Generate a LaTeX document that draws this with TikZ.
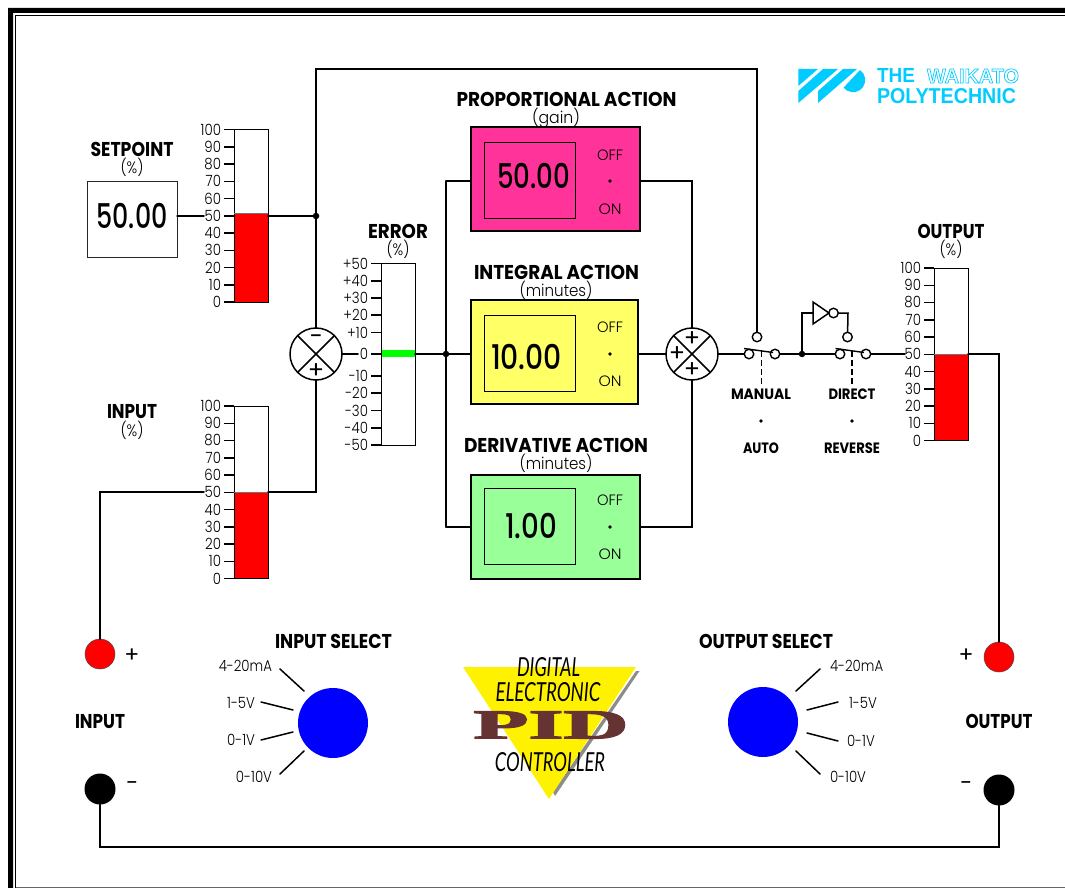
\documentclass[tikz,border=0pt]{standalone}
\usepackage{fontspec}
\usepackage{graphicx}
\setmainfont{Poppins}
\newfontfamily\lightf{Poppins Light}
\newfontfamily\medf{Poppins Medium}
\newfontfamily\logofont{Liberation Sans}
\newfontfamily\handfont{Lato}
\newfontfamily\pidfont[BoldFeatures={FakeBold=2.5}]{Liberation Serif}
\definecolor{logocyan}{HTML}{00CCFF}
\definecolor{propcol}{HTML}{FF3399}
\definecolor{intcol}{HTML}{FFFF66}
\definecolor{dercol}{HTML}{99FF99}
\definecolor{pidcol}{HTML}{663333}
\newcommand{\fitw}[2]{\resizebox{#1pt}{\height}{#2}}
\newcommand{\fitwh}[3]{\resizebox{#1pt}{#2pt}{#3}}
\newcommand{\tlab}[1]{\scalebox{0.86}[1]{\lightf\fontsize{15.5}{15.5}\selectfont #1}}
\tikzset{
  wire/.style={line width=1.5pt,line cap=round,line join=miter},
  tickmark/.style={line width=1.5pt},
  txt/.style={inner sep=0pt,outer sep=0pt,anchor=center},
  title/.style={txt,font=\fontsize{20}{20}\selectfont\bfseries},
  sub/.style={txt,font=\lightf\fontsize{16.5}{16.5}\selectfont},
  big/.style={txt,font=\medf\fontsize{34}{34}\selectfont},
  swlab/.style={txt,font=\fontsize{15}{15}\selectfont\bfseries},
  onoff/.style={txt,font=\lightf\fontsize{15}{15}\selectfont},
  panel/.style={draw=black,line width=1.5pt,inner sep=0pt,outer sep=0pt},
  inner/.style={draw=black,line width=0.9pt,inner sep=0pt,outer sep=0pt},
  summer/.style={circle,draw=black,fill=white,line width=1.5pt,minimum size=52pt,inner sep=0pt,outer sep=0pt},
  contact/.style={circle,draw=black,fill=white,line width=1.4pt,minimum size=9.5pt,inner sep=0pt,outer sep=0pt},
  junction/.style={circle,fill=black,minimum size=6.5pt,inner sep=0pt,outer sep=0pt},
  smalldot/.style={circle,fill=black,minimum size=3.8pt,inner sep=0pt,outer sep=0pt},
  termred/.style={circle,fill=red,draw=black!70,line width=0.5pt,minimum size=30pt,inner sep=0pt,outer sep=0pt},
  termblack/.style={circle,fill=black,minimum size=31pt,inner sep=0pt,outer sep=0pt},
  knob/.style={circle,fill=blue,minimum size=70pt,inner sep=0pt,outer sep=0pt},
  barbox/.style={draw=black,line width=1pt,fill=white,inner sep=0pt,outer sep=0pt},
  plainsign/.style={txt,font=\fontsize{24}{24}\selectfont},
  termsign/.style={txt,font=\fontsize{22}{22}\selectfont},
}
% #1 name, #2 bar-left x, #3 top y, #4 red level below top
\newcommand{\pctbar}[4]{%
  \node[barbox,minimum width=34pt,minimum height=172.6pt,anchor=north west] (#1) at (#2,#3) {};
  \fill[red] (#2,#3+#4) rectangle (#2+34,#3+172.6);
  \draw[line width=1pt] (#2,#3+#4) -- (#2,#3+172.6) -- (#2+34,#3+172.6) -- (#2+34,#3+#4);
  \draw[line width=0.7pt,black!55] (#2,#3+#4) -- (#2+34,#3+#4);
  \foreach \v [count=\i from 0] in {100,90,80,70,60,50,40,30,20,10,0}{
    \draw[tickmark] (#2-10,#3+\i*17.26) -- (#2,#3+\i*17.26);
    \node[txt,anchor=east] (#1lab\i) at (#2-13,#3+\i*17.26) {\tlab{\v}};
  }
}
\begin{document}
\begin{tikzpicture}[x=1pt,y=-1pt]
\useasboundingbox (0,0) rectangle (1065,888);
\fill[white] (0,0) rectangle (1065,888);
% frame
\fill[black] (8,888) -- (8,8) -- (1065,8) -- (1065,13) -- (13,13) -- (13,888) -- cycle;
\draw[line width=1pt] (15.5,888) -- (15.5,15.5) -- (1065,15.5);
\draw[line width=1pt,black!60] (15.5,887) -- (1065,887);

% ---------- logo
\fill[logocyan] (798.3,69) -- (818,69) -- (798.3,86) -- cycle;
\fill[logocyan] (798.3,91) -- (823,69) -- (838,69) -- (798.3,103) -- cycle;
\fill[logocyan] (818,91) -- (843,69) -- (857,69) -- (818,103) -- cycle;
\fill[logocyan] (860,70) arc[start angle=-55,end angle=141,radius=12.2] -- cycle;
\node[txt,anchor=west,text=logocyan] (logoThe) at (877,76) {\fitwh{38}{14}{\logofont\bfseries THE}};
\node[txt,anchor=west,text=logocyan] (logoPoly) at (877,96) {\fitwh{139}{15}{\logofont\bfseries POLYTECHNIC}};
\node[txt,anchor=west] (logoWai) at (927,76) {\special{pdf:code q 1 Tr 0.35 w 0 0.8 1 RG 1 1 1 rg}\fitwh{92}{14}{\logofont\bfseries WAIKATO}\special{pdf:code Q}};

% ---------- bars
\pctbar{barSP}{234}{129.5}{84}
\pctbar{barIN}{234}{406}{86}
\pctbar{barOUT}{934}{268}{86}

% error bar
\node[barbox,minimum width=34pt,minimum height=181.5pt,anchor=north west] (barERR) at (381,263.5) {};
\foreach \v/\yy in {+50/263.7,+40/281,+30/298,+20/315,+10/332.7,0/354,-10/376,-20/393,-30/410.7,-40/428,-50/445}{
  \draw[tickmark] (371,\yy) -- (381,\yy);
  \node[txt,anchor=east] (errlab\v) at (368,\yy) {\tlab{\v}};
}
\node[fill=green,minimum width=34pt,minimum height=7pt,inner sep=0pt,outer sep=0pt] (errlevel) at (398,353.2) {};
\draw[line width=1pt] (errlevel.north west) -- (errlevel.south west);

% ---------- setpoint
\node[panel,line width=1pt,draw=black!85,minimum width=90pt,minimum height=76pt,fill=white] (sp) at (132,219) {};
\node[big] (spval) at (132,216) {\fitw{71}{50.00}};
\node[title] (spt) at (132,149) {\fitw{83}{SETPOINT}};
\node[sub] (spu) at (132,167) {\fitw{23}{(\%)}};
\node[title] (ert) at (398,231) {\fitw{60}{ERROR}};
\node[sub] (eru) at (398,249) {\fitw{23}{(\%)}};
\node[title] (ott) at (951,231) {\fitw{67}{OUTPUT}};
\node[sub] (otu) at (951,249) {\fitw{23}{(\%)}};
\node[title] (int) at (132,412) {\fitw{50}{INPUT}};
\node[sub] (inu) at (132,430) {\fitw{23}{(\%)}};

% ---------- action panels
\node[panel,fill=propcol,minimum width=169pt,minimum height=104pt] (pP) at (555.5,179) {};
\node[panel,fill=intcol,minimum width=167pt,minimum height=104pt] (pI) at (554.5,352) {};
\node[panel,fill=dercol,minimum width=169pt,minimum height=104pt] (pD) at (555.5,527) {};
\node[inner,minimum width=91pt,minimum height=76pt] (pPi) at (529.5,180) {};
\node[inner,minimum width=91pt,minimum height=76pt] (pIi) at (529.5,353) {};
\node[inner,minimum width=91pt,minimum height=76pt] (pDi) at (529.5,526) {};
\node[big] (vP) at (533.5,176) {\fitw{73}{50.00}};
\node[big] (vI) at (526.5,357) {\fitw{71}{10.00}};
\node[big] (vD) at (531,526) {\fitw{52}{1.00}};
\node[title] (tP) at (566.5,99) {\fitw{220}{PROPORTIONAL ACTION}};
\node[sub] (uP) at (556,118) {\fitw{48}{(gain)}};
\node[title] (tI) at (556.5,272) {\fitw{165}{INTEGRAL ACTION}};
\node[sub] (uI) at (556,290) {\fitw{73}{(minutes)}};
\node[title] (tD) at (556,445) {\fitw{184}{DERIVATIVE ACTION}};
\node[sub] (uD) at (556,463) {\fitw{73}{(minutes)}};
\foreach \nm/\a/\b/\c in {P/155/181/209,I/327/354/381,D/500/527/554}{
  \node[onoff] (off\nm) at (610,\a+0.5) {\fitw{26}{OFF}};
  \node[smalldot] (dot\nm) at (610,\b) {};
  \node[onoff] (on\nm) at (610,\c+0.5) {\fitw{23}{ON}};
}

% ---------- summers
\node[summer] (s1) at (316,354) {};
\node[summer] (s2) at (692,354) {};
\foreach \s in {s1,s2}{
  \draw[line width=1.5pt] (\s.45) -- (\s.225);
  \draw[line width=1.5pt] (\s.135) -- (\s.315);
}
\node[plainsign] (s1m) at (316,340) {\textminus};
\node[plainsign] (s1p) at (316,371) {+};
\node[plainsign] (s2t) at (692,339) {+};
\node[plainsign] (s2l) at (677,354) {+};
\node[plainsign] (s2b) at (692,370) {+};

% ---------- switches
\node[contact] (c1a) at (749,354) {};
\node[contact] (c1b) at (775,354) {};
\node[contact] (c1t) at (757,337) {};
\node[contact] (c2a) at (840,354) {};
\node[contact] (c2b) at (866,354) {};
\node[contact] (c2t) at (847.5,337) {};
\node[contact] (invb) at (833.5,313) {};
\coordinate (lev1a) at (744,348.5);
\coordinate (lev1b) at (773,352.5);
\coordinate (lev2a) at (835.5,348.5);
\coordinate (lev2b) at (864,352.5);
\draw[line width=1.4pt] (lev1a) -- (lev1b);
\draw[line width=1.4pt] (lev2a) -- (lev2b);
\coordinate (d1a) at (761,351);
\coordinate (d1b) at (761,385);
\coordinate (d2a) at (852,351);
\coordinate (d2b) at (852,385);
\draw[line width=1pt,dash pattern=on 6pt off 3pt] (d1a) -- (d1b);
\draw[line width=1.6pt,dash pattern=on 6pt off 3pt] (d2a) -- (d2b);
\coordinate (invA) at (813,302);
\coordinate (invB) at (813,324);
\coordinate (invC) at (829,313);
\coordinate (invIn) at (813,313);
\draw[line width=1.5pt,fill=white,line join=miter] (invA) -- (invC) -- (invB) -- cycle;
\node[junction] (j3) at (802,354) {};
\node[swlab] (lMan) at (761,394) {\fitw{60}{MANUAL}};
\node[smalldot] (dMan) at (761,421) {};
\node[swlab] (lAut) at (761,448) {\fitw{36}{AUTO}};
\node[swlab] (lDir) at (852,394) {\fitw{47}{DIRECT}};
\node[smalldot] (dDir) at (852,421) {};
\node[swlab] (lRev) at (852,448) {\fitw{56}{REVERSE}};

% ---------- terminals
\node[termred] (tinp) at (100,654) {};
\node[termblack] (tinm) at (100,789) {};
\node[termred] (toutp) at (999,657) {};
\node[termblack] (toutm) at (999,790) {};
\node[termsign] (pl1) at (132,656) {+};
\node[termsign] (mi1) at (132,786) {\textminus};
\node[termsign] (pl2) at (966,656) {+};
\node[termsign] (mi2) at (966,786) {\textminus};
\node[title] (lin) at (100,721.5) {\fitw{50}{INPUT}};
\node[title] (lout) at (999,721.5) {\fitw{67}{OUTPUT}};

% ---------- selectors
\node[knob] (kL) at (333,723) {};
\node[knob] (kR) at (763,722) {};
\node[title] (kLt) at (333.5,641) {\fitw{117}{INPUT SELECT}};
\node[title] (kRt) at (766,641) {\fitw{134}{OUTPUT SELECT}};
\node[txt,anchor=east] (kL1) at (272,666) {\tlab{4-20mA}};
\node[txt,anchor=east] (kL2) at (255,703) {\tlab{1-5V}};
\node[txt,anchor=east] (kL3) at (255,740) {\tlab{0-1V}};
\node[txt,anchor=east] (kL4) at (272,777) {\tlab{0-10V}};
\node[txt,anchor=west] (kR1) at (830,666) {\tlab{4-20mA}};
\node[txt,anchor=west] (kR2) at (849,703) {\tlab{1-5V}};
\node[txt,anchor=west] (kR3) at (847,741) {\tlab{0-1V}};
\node[txt,anchor=west] (kR4) at (830,777) {\tlab{0-10V}};
\draw[wire] (280,669) -- (304,691);
\draw[wire] (261,702) -- (293,710);
\draw[wire] (261,740) -- (293,732);
\draw[wire] (280,774) -- (304,751);
\draw[wire] (796,691) -- (820,669);
\draw[wire] (807,710) -- (838,702);
\draw[wire] (807,733) -- (838,741);
\draw[wire] (796,751) -- (820,774);

% ---------- PID badge
\fill[black!45] (636,671) -- (639.5,671) -- (555,796) -- (553,792) -- cycle;
\fill[yellow] (463,667) -- (636,667) -- (549,799) -- cycle;
\node[txt] (bd1) at (548.5,667) {\fitwh{63}{19}{\handfont\itshape DIGITAL}};
\node[txt] (bd2) at (548,692) {\fitwh{105}{19}{\handfont\itshape ELECTRONIC}};
\node[txt,text=pidcol] (bd3) at (551,725) {\fitwh{155}{27}{\pidfont\bfseries PID}};
\node[txt] (bd4) at (550,762) {\fitwh{110}{19}{\handfont\itshape CONTROLLER}};

% ---------- connectors
\coordinate (spOut) at (204,216);
\coordinate (barSPr) at (268,216);
\coordinate (corner1) at (316,69);
\coordinate (corner2) at (757,69);
\node[junction] (j1) at (316,216) {};
\coordinate (barINl) at (204,492);
\coordinate (barINr) at (268,492);
\coordinate (s1in) at (316,492);
\coordinate (inCorner) at (100,492);
\coordinate (errOut) at (358,354);
\coordinate (barERRr) at (415,354);
\node[junction] (j2) at (446,354) {};
\coordinate (vtop) at (446,181);
\coordinate (vbot) at (446,527);
\coordinate (s2top) at (692,181);
\coordinate (s2bot) at (692,527);
\coordinate (inv1) at (802,313);
\coordinate (inv2) at (848,313);
\coordinate (swOut) at (905,354);
\coordinate (barOUTr) at (968,354);
\coordinate (outCorner) at (999,354);
\coordinate (botL) at (100,847);
\coordinate (botR) at (999,847);
\draw[wire] (sp.east |- spOut) -- (spOut);
\draw[wire] (barSPr) -- (j1);
\draw[wire] (s1) -- (corner1) -- (corner2) -- (c1t);
\draw[wire] (s1) -- (s1in) -- (barINr);
\draw[wire] (barINl) -- (inCorner) -- (tinp);
\draw[wire] (tinm) -- (botL) -- (botR) -- (toutm);
\draw[wire] (toutp) -- (outCorner) -- (barOUTr);
\draw[wire] (s1) -- (errOut);
\draw[wire] (barERRr) -- (pI.west |- barERRr);
\draw[wire] (vtop) -- (vbot);
\draw[wire] (vtop) -- (pP.west |- vtop);
\draw[wire] (vbot) -- (pD.west |- vbot);
\draw[wire] (pP.east |- s2top) -- (s2top) -- (s2);
\draw[wire] (pD.east |- s2bot) -- (s2bot) -- (s2);
\draw[wire] (pI.east |- s2) -- (s2);
\draw[wire] (s2) -- (c1a);
\draw[wire] (c1b) -- (c2a);
\draw[wire] (c2b) -- (swOut);
\draw[wire] (j3) -- (inv1) -- (invIn);
\draw[wire] (invb) -- (inv2) -- (c2t);
\end{tikzpicture}
\end{document}
